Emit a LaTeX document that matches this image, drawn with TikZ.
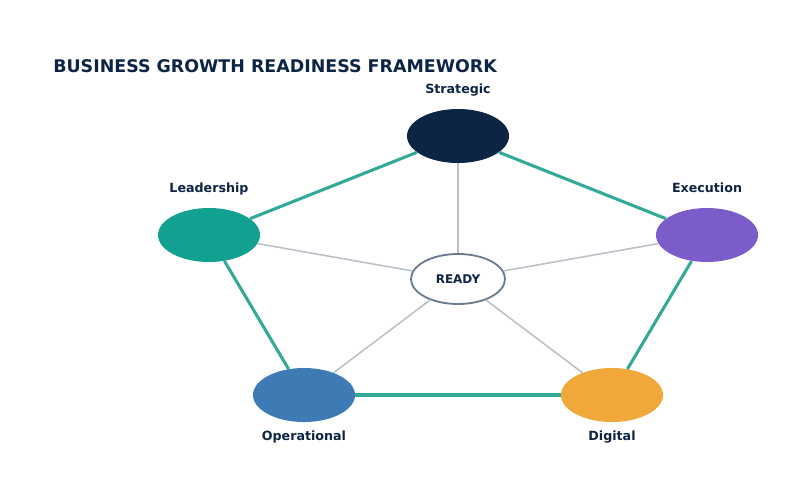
\documentclass[tikz,border=0pt]{standalone}
\usepackage{fontspec}
\setmainfont{DejaVu Sans}
\usetikzlibrary{shapes.geometric, positioning}
\definecolor{navyblue}{HTML}{0D2545}
\definecolor{tealgreen}{HTML}{12A090}
\definecolor{violet}{HTML}{7B5CC8}
\definecolor{steelblue}{HTML}{3E7BB4}
\definecolor{amber}{HTML}{F0A83A}
\definecolor{ringline}{HTML}{33AA99}
\definecolor{spokegray}{HTML}{B8C0C8}
\definecolor{coreline}{HTML}{6B7A8F}

\begin{document}
\begin{tikzpicture}[x=0.025cm, y=-0.025cm]
\tikzstyle{pillar} = [ellipse, minimum width=2.55cm, minimum height=1.35cm, inner sep=0pt]
\tikzstyle{pillarlabel} = [font=\fontsize{9}{11}\selectfont\bfseries, text=navyblue, inner sep=0pt, text depth=2pt]
\tikzstyle{ring} = [ringline, line width=2.2pt]
\tikzstyle{spoke} = [spokegray, line width=1.1pt]

\useasboundingbox (0,0) rectangle (800,500);

\node (title) [anchor=west, font=\fontsize{12.4}{15}\selectfont\bfseries, text=navyblue, inner sep=0pt] at (53,66) {BUSINESS GROWTH READINESS FRAMEWORK};

\node (ready) [ellipse, minimum width=2.35cm, minimum height=1.25cm, inner sep=0pt, draw=coreline, line width=1.3pt, fill=white, font=\fontsize{8.5}{10}\selectfont\bfseries, text=navyblue] at (458,279) {READY};

\node (strategic) [pillar, fill=navyblue] at (458,136) {};
\node (leadership) [pillar, fill=tealgreen] at (209,235) {};
\node (execution) [pillar, fill=violet] at (707,235) {};
\node (operational) [pillar, fill=steelblue] at (304,395) {};
\node (digital) [pillar, fill=amber] at (612,395) {};

\node (strategiclbl) [pillarlabel, above=0.3cm of strategic] {Strategic};
\node (leadershiplbl) [pillarlabel, above=0.3cm of leadership] {Leadership};
\node (executionlbl) [pillarlabel, above=0.3cm of execution] {Execution};
\node (operationallbl) [pillarlabel, below=0.2cm of operational] {Operational};
\node (digitallbl) [pillarlabel, below=0.2cm of digital] {Digital};

% spokes to the core
\draw[spoke] (ready) -- (strategic);
\draw[spoke] (ready) -- (leadership);
\draw[spoke] (ready) -- (execution);
\draw[spoke] (ready) -- (operational);
\draw[spoke] (ready) -- (digital);

% outer ring
\draw[ring] (strategic) -- (execution);
\draw[ring] (execution) -- (digital);
\draw[ring] (digital) -- (operational);
\draw[ring] (operational) -- (leadership);
\draw[ring] (leadership) -- (strategic);

\end{tikzpicture}
\end{document}
